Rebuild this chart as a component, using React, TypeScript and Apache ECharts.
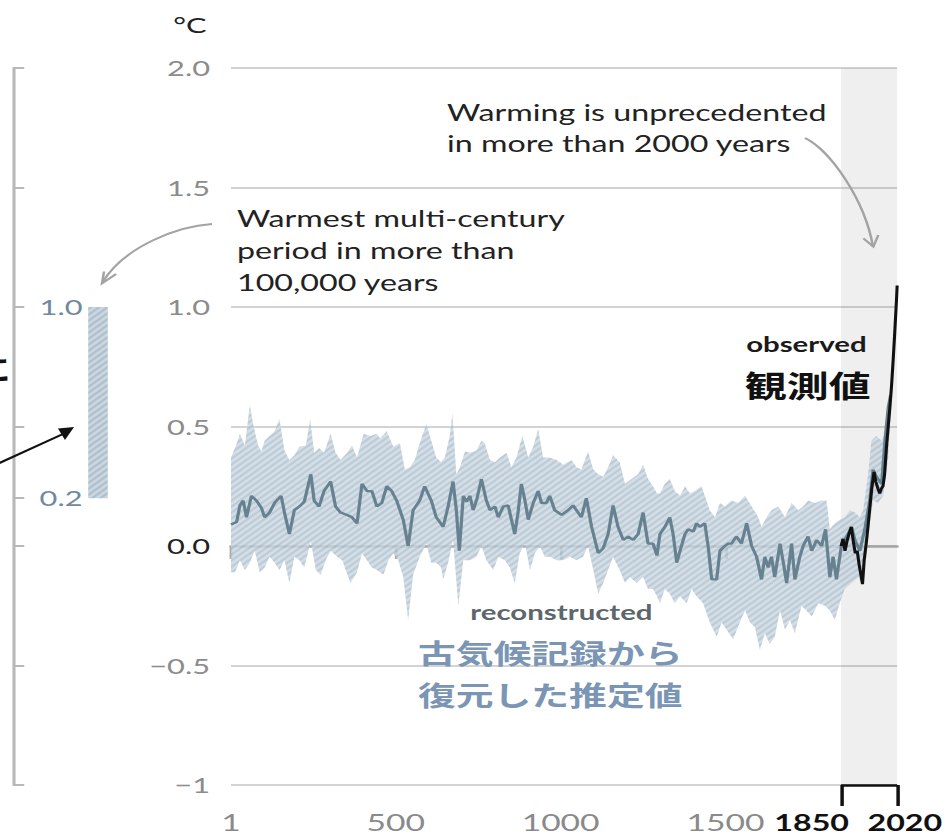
import React, { useEffect, useRef } from 'react';
import * as echarts from 'echarts';

const SX = 1.4;
const W = 676;
const H = 836;

const xLabelYears = [1, 500, 1000, 1500, 1850, 2020];
const xTickYears = [1, 500, 1000, 1500];
const bracketYears = [1850, 2020];
const leftTickValues = [-1, -0.5, 0, 0.2, 0.5, 1, 1.5, 2];
const leftLabelValues = [0.2, 1.0];
const warmestRange = [0.2, 1.0];

const median: number[][] = [
  [1, 0.09], [18, 0.10], [28, 0.17], [38, 0.19], [48, 0.12], [63, 0.21], [78, 0.19], [93, 0.16], [103, 0.12], [118, 0.14],
  [133, 0.18], [153, 0.21], [163, 0.14], [178, 0.05], [193, 0.15], [208, 0.165], [223, 0.185], [243, 0.30], [253, 0.19], [268, 0.165],
  [283, 0.23], [303, 0.27], [318, 0.165], [333, 0.14], [353, 0.13], [368, 0.12], [383, 0.095], [398, 0.26], [413, 0.23], [428, 0.23],
  [443, 0.165], [458, 0.18], [473, 0.25], [488, 0.23], [503, 0.19], [523, 0.11], [538, 0.0], [553, 0.15], [573, 0.19], [588, 0.25],
  [608, 0.19], [623, 0.12], [634, 0.10], [644, 0.08], [659, 0.165], [674, 0.27], [684, 0.15], [693, -0.02], [705, 0.21], [715, 0.185],
  [725, 0.21], [735, 0.15], [745, 0.19], [760, 0.28], [775, 0.19], [786, 0.15], [801, 0.165], [811, 0.12], [826, 0.165], [841, 0.17],
  [851, 0.11], [861, 0.05], [871, 0.14], [881, 0.26], [892, 0.19], [902, 0.11], [917, 0.18], [932, 0.23], [942, 0.18], [957, 0.18],
  [967, 0.21], [982, 0.15], [1003, 0.13], [1023, 0.15], [1038, 0.17], [1048, 0.15], [1063, 0.12], [1078, 0.20], [1094, 0.08], [1114, -0.03],
  [1129, -0.01], [1144, 0.05], [1159, 0.17], [1174, 0.08], [1190, 0.025], [1205, 0.04], [1220, 0.025], [1235, 0.05], [1250, 0.14], [1265, 0.01],
  [1280, 0.01], [1292, -0.04], [1301, 0.05], [1316, 0.08], [1331, 0.12], [1341, 0.05], [1352, -0.07], [1362, -0.02], [1377, 0.05], [1387, 0.07],
  [1402, 0.06], [1412, 0.095], [1422, 0.08], [1437, 0.095], [1447, 0.0], [1458, -0.14], [1473, -0.14], [1483, -0.02], [1498, 0.0], [1508, 0.01],
  [1518, 0.01], [1533, 0.04], [1548, 0.01], [1564, 0.095], [1579, 0.0], [1594, -0.045], [1609, -0.14], [1619, -0.045], [1629, -0.09], [1639, -0.045],
  [1649, -0.13], [1665, 0.01], [1675, -0.07], [1685, -0.155], [1700, 0.01], [1710, -0.14], [1725, -0.045], [1735, 0.0], [1750, 0.04], [1761, -0.02],
  [1776, 0.025], [1791, 0.0], [1803, 0.07], [1816, -0.13], [1826, -0.045], [1836, -0.14], [1851, 0.0], [1867, 0.04], [1882, 0.08], [1892, 0.025],
  [1907, -0.02], [1922, 0.07], [1937, 0.19], [1947, 0.32], [1957, 0.29], [1973, 0.26], [1983, 0.44], [1993, 0.58], [2000, 0.63],
];

const upper: number[][] = [
  [1, 0.37], [13, 0.41], [28, 0.47], [43, 0.42], [58, 0.59], [68, 0.51], [83, 0.42], [93, 0.395], [103, 0.44], [118, 0.46],
  [133, 0.48], [148, 0.53], [163, 0.40], [178, 0.36], [193, 0.38], [208, 0.415], [228, 0.42], [241, 0.53], [253, 0.39], [268, 0.41],
  [283, 0.39], [303, 0.47], [318, 0.39], [333, 0.36], [353, 0.39], [368, 0.42], [383, 0.37], [403, 0.47], [423, 0.46], [443, 0.47],
  [453, 0.45], [473, 0.48], [493, 0.415], [513, 0.43], [528, 0.32], [543, 0.33], [558, 0.36], [573, 0.43], [593, 0.51], [608, 0.44],
  [623, 0.37], [638, 0.35], [649, 0.37], [664, 0.46], [672, 0.555], [684, 0.30], [695, 0.33], [710, 0.395], [725, 0.39], [745, 0.40],
  [760, 0.44], [770, 0.43], [786, 0.36], [801, 0.35], [816, 0.37], [836, 0.39], [851, 0.33], [866, 0.37], [884, 0.46], [902, 0.37],
  [917, 0.415], [932, 0.49], [947, 0.37], [967, 0.37], [988, 0.36], [1008, 0.34], [1033, 0.36], [1048, 0.33], [1063, 0.32], [1083, 0.395],
  [1099, 0.32], [1114, 0.30], [1129, 0.29], [1144, 0.33], [1159, 0.38], [1179, 0.35], [1195, 0.26], [1215, 0.28], [1235, 0.30], [1250, 0.34],
  [1265, 0.28], [1280, 0.25], [1292, 0.22], [1301, 0.22], [1316, 0.26], [1331, 0.28], [1346, 0.23], [1362, 0.21], [1377, 0.25], [1392, 0.22],
  [1407, 0.23], [1427, 0.25], [1442, 0.19], [1452, 0.15], [1468, 0.12], [1483, 0.18], [1498, 0.165], [1518, 0.19], [1538, 0.18], [1559, 0.21],
  [1579, 0.165], [1599, 0.12], [1609, 0.08], [1624, 0.12], [1639, 0.15], [1660, 0.165], [1680, 0.12], [1700, 0.18], [1720, 0.15], [1735, 0.165],
  [1750, 0.19], [1771, 0.18], [1791, 0.19], [1806, 0.19], [1816, 0.07], [1831, 0.095], [1846, 0.11], [1861, 0.12], [1877, 0.15], [1892, 0.14],
  [1907, 0.12], [1917, 0.15], [1932, 0.30], [1942, 0.44], [1957, 0.46], [1973, 0.44], [1983, 0.47], [1993, 0.61], [2000, 0.66],
];

const lower: number[][] = [
  [1, -0.11], [13, -0.11], [28, -0.06], [43, -0.10], [58, -0.07], [73, -0.02], [88, -0.11], [103, -0.09], [118, -0.045], [133, -0.07],
  [148, -0.10], [163, -0.06], [178, -0.155], [193, -0.045], [208, -0.06], [223, -0.09], [243, 0.02], [258, -0.10], [273, -0.12], [288, -0.06],
  [303, -0.02], [323, -0.045], [338, -0.06], [363, -0.155], [383, -0.11], [398, -0.03], [413, -0.06], [428, -0.09], [443, -0.10], [463, -0.12],
  [478, -0.06], [493, -0.03], [508, -0.06], [523, -0.13], [538, -0.31], [553, -0.12], [573, -0.045], [593, 0.01], [608, -0.07], [623, -0.07],
  [638, -0.09], [644, -0.14], [659, -0.07], [674, 0.025], [690, -0.25], [705, -0.06], [725, -0.06], [745, -0.045], [760, 0.0], [775, -0.06],
  [796, -0.10], [811, -0.045], [831, -0.06], [846, -0.09], [861, -0.155], [876, -0.03], [892, 0.01], [907, -0.10], [922, -0.03], [937, 0.0],
  [952, -0.045], [967, -0.045], [988, -0.06], [1008, -0.06], [1028, -0.045], [1048, -0.06], [1068, -0.045], [1083, 0.0], [1099, -0.10], [1114, -0.20],
  [1129, -0.155], [1144, -0.10], [1159, -0.045], [1179, -0.10], [1195, -0.155], [1210, -0.13], [1230, -0.155], [1250, -0.13], [1265, -0.18], [1280, -0.18],
  [1292, -0.21], [1301, -0.24], [1316, -0.18], [1331, -0.20], [1346, -0.24], [1362, -0.21], [1382, -0.24], [1397, -0.18], [1412, -0.21], [1432, -0.24],
  [1452, -0.32], [1473, -0.38], [1488, -0.32], [1503, -0.35], [1523, -0.39], [1543, -0.32], [1559, -0.27], [1574, -0.32], [1589, -0.34], [1604, -0.435],
  [1619, -0.365], [1634, -0.41], [1649, -0.38], [1665, -0.27], [1680, -0.35], [1695, -0.31], [1710, -0.365], [1730, -0.25], [1745, -0.27], [1761, -0.295],
  [1781, -0.24], [1801, -0.25], [1816, -0.27], [1831, -0.31], [1846, -0.24], [1861, -0.18], [1882, -0.155], [1902, -0.13], [1912, -0.155], [1927, -0.045],
  [1937, 0.095], [1947, 0.19], [1962, 0.18], [1978, 0.21], [1993, 0.37], [2000, 0.55],
];

const observed: number[][] = [
  [1850, 0.0], [1856, 0.03], [1862, -0.02], [1868, 0.02], [1874, 0.05], [1881, 0.08], [1887, 0.02], [1893, -0.03], [1899, -0.02], [1905, -0.08],
  [1910, -0.12], [1915, -0.16], [1920, -0.06], [1927, 0.02], [1933, 0.10], [1938, 0.17], [1943, 0.24], [1950, 0.31], [1955, 0.27], [1962, 0.24],
  [1967, 0.22], [1972, 0.24], [1977, 0.25], [1982, 0.30], [1988, 0.42], [1993, 0.50], [1998, 0.58], [2003, 0.67], [2008, 0.78], [2013, 0.90],
  [2018, 1.03], [2020, 1.09],
];

const LATO = 'Lato, "Noto Sans", sans-serif';
const CJK = '"Noto Sans CJK JP", "Noto Sans CJK SC", sans-serif';

function makePattern(): HTMLCanvasElement {
  const c = document.createElement('canvas');
  c.width = 6;
  c.height = 6;
  const ctx = c.getContext('2d')!;
  ctx.fillStyle = '#cbd7e0';
  ctx.fillRect(0, 0, 6, 6);
  ctx.strokeStyle = '#a9bccb';
  ctx.lineWidth = 1.6;
  for (const cc of [0, 6, 12]) {
    ctx.beginPath();
    ctx.moveTo(cc + 1, -1);
    ctx.lineTo(-1, cc + 1);
    ctx.stroke();
  }
  return c;
}

function fmtY(v: number): string {
  if (v === 0) return '{z|0.0}';
  if (v === -1) return '\u22121';
  if (v < 0) return '\u2212' + Math.abs(v).toFixed(1);
  return v.toFixed(1);
}

function txt(x: number, y: number, text: string, size: number, color: string, opts: any = {}) {
  return {
    type: 'text',
    x,
    y,
    z: 100,
    silent: true,
    style: {
      text,
      fontSize: size,
      fontFamily: opts.family || LATO,
      fontWeight: opts.weight || 'normal',
      fill: color,
      align: opts.align || 'center',
      textAlign: opts.align || 'center',
      verticalAlign: opts.valign || 'middle',
      textVerticalAlign: opts.valign || 'middle',
      lineHeight: opts.lineHeight,
    },
  };
}

export default function App() {
  const ref = useRef<HTMLDivElement>(null);
  useEffect(() => {
    document.body.style.margin = '0';
    const chart = echarts.init(ref.current!, null, { renderer: 'svg', width: W, height: H });
    const pattern = { image: makePattern(), repeat: 'repeat' };
    const arrowGray = '#a3a3a3';

    const option: any = {
      animation: false,
      textStyle: { fontFamily: LATO },
      grid: [
        { left: 165, right: 35, top: 68, bottom: 51 },
        { left: 9.3, width: 121.4, top: 68, bottom: 51 },
      ],
      xAxis: [
        {
          gridIndex: 0, type: 'value', min: 1, max: 2020, position: 'bottom',
          axisLine: { show: true, lineStyle: { color: '#ababab', width: 2.5 } },
          axisTick: { show: true, customValues: xTickYears, length: 13, lineStyle: { color: '#ababab', width: 2 } },
          axisLabel: {
            customValues: xLabelYears, margin: 25, fontFamily: LATO, fontSize: 24, color: '#8a8a8a',
            formatter: (v: number) => (v === 1850 ? '{b1|1850}' : v === 2020 ? '{b2|2020}' : String(v)),
            rich: {
              b1: { fontWeight: 'bold', color: '#111', fontSize: 23, fontFamily: LATO, padding: [0, 42, 0, 0] },
              b2: { fontWeight: 'bold', color: '#111', fontSize: 23, fontFamily: LATO, padding: [0, 0, 0, 11] },
            },
          },
          splitLine: { show: false },
        },
        {
          gridIndex: 0, type: 'value', min: 1, max: 2020, position: 'bottom',
          axisLine: { show: false },
          axisTick: { show: true, customValues: bracketYears, length: 21, lineStyle: { color: '#111', width: 2.5 } },
          axisLabel: { show: false },
          splitLine: { show: false },
        },
        { gridIndex: 1, type: 'category', data: ['warmest'], show: false },
      ],
      yAxis: [
        {
          gridIndex: 0, type: 'value', min: -1, max: 2, interval: 0.5,
          axisLine: { show: false }, axisTick: { show: false },
          splitLine: { show: true, lineStyle: { color: '#d3d3d3', width: 2 } },
          axisLabel: {
            margin: 15, fontSize: 22, color: '#8c8c8c', fontFamily: LATO, formatter: fmtY,
            rich: { z: { color: '#222', fontSize: 22, fontFamily: LATO } },
          },
        },
        {
          gridIndex: 1, type: 'value', min: -1, max: 2, interval: 0.5,
          axisLine: { show: true, lineStyle: { color: '#b8b8b8', width: 2.2 } },
          axisTick: { show: true, inside: true, customValues: leftTickValues, length: 8, lineStyle: { color: '#b8b8b8', width: 2 } },
          axisLabel: {
            inside: true, customValues: leftLabelValues, margin: 19, fontSize: 22, color: '#6f8a9c', fontFamily: LATO,
            formatter: (v: number) => v.toFixed(1),
          },
          splitLine: { show: false },
        },
      ],
      series: [
        {
          type: 'line', xAxisIndex: 0, yAxisIndex: 0, data: [[1850, -1]], symbol: 'none',
          lineStyle: { opacity: 0 }, silent: true, z: 1,
          markArea: { silent: true, z: 1, itemStyle: { color: 'rgba(110,100,100,0.1)' }, data: [[{ xAxis: 1850 }, { xAxis: 2020 }]] },
        },
        {
          type: 'custom', xAxisIndex: 0, yAxisIndex: 0, data: [[1000, 0]], silent: true, z: 3,
          renderItem: (_p: any, api: any) => {
            const pts = upper.map((d) => api.coord(d)).concat(lower.slice().reverse().map((d) => api.coord(d)));
            return { type: 'polygon', shape: { points: pts }, style: { fill: pattern, stroke: null, opacity: 0.82 } };
          },
        },
        {
          type: 'line', xAxisIndex: 0, yAxisIndex: 0, data: median, symbol: 'none', silent: true, z: 4,
          lineStyle: { color: '#66818f', width: 2.3 },
        },
        {
          type: 'line', xAxisIndex: 0, yAxisIndex: 0, data: observed, symbol: 'none', silent: true, z: 5,
          lineStyle: { color: '#111', width: 2.2 },
        },
        {
          type: 'line', xAxisIndex: 0, yAxisIndex: 0, data: [[1850, -1]], symbol: 'none', silent: true, z: 6,
          lineStyle: { opacity: 0 },
          markLine: {
            silent: true, symbol: ['none', 'none'], label: { show: false },
            lineStyle: { color: '#111', width: 2.5, type: 'solid' },
            data: [[{ coord: [bracketYears[0], -1] }, { coord: [bracketYears[1], -1] }]],
          },
        },
        {
          type: 'bar', xAxisIndex: 2, yAxisIndex: 1, stack: 'w', barWidth: 14, silent: true,
          data: [warmestRange[0]], itemStyle: { color: 'rgba(0,0,0,0)' },
        },
        {
          type: 'bar', xAxisIndex: 2, yAxisIndex: 1, stack: 'w', barWidth: 14, silent: true,
          data: [warmestRange[1] - warmestRange[0]], itemStyle: { color: pattern },
        },
      ],
      graphic: [
        txt(135.7, 25, '°C', 22, '#222'),
        txt(319.3, 96.5, 'Warming is unprecedented\nin more than 2000 years', 23, '#222', { align: 'left', valign: 'top', lineHeight: 31 }),
        txt(169.3, 202, 'Warmest multi-century\nperiod in more than\n100,000 years', 23, '#222', { align: 'left', valign: 'top', lineHeight: 32 }),
        txt(576, 344, 'observed', 21, '#1a1a1a', { weight: 'bold' }),
        txt(577, 384, '観測値', 30, '#111', { weight: 'bold', family: CJK }),
        txt(401, 612, 'reconstructed', 21, '#5d666d', { weight: 'bold' }),
        txt(393, 652, '古気候記録から', 27, '#7b95b5', { weight: 'bold', family: CJK }),
        txt(393, 694, '復元した推定値', 27, '#7b95b5', { weight: 'bold', family: CJK }),
        txt(8, 367, 'に', 30, '#111', { weight: 'bold', family: CJK, align: 'right' }),
        {
          type: 'bezierCurve', silent: true, z: 100,
          shape: { x1: 151.4, y1: 224, cpx1: 128.6, cpy1: 226, cpx2: 89.3, cpy2: 245, x2: 72.9, y2: 283 },
          style: { stroke: arrowGray, lineWidth: 1.8, fill: null },
        },
        {
          type: 'polyline', silent: true, z: 100,
          shape: { points: [[74.3, 271.5], [72.9, 283.3], [82.9, 274]] },
          style: { stroke: arrowGray, lineWidth: 1.8, fill: null },
        },
        {
          type: 'bezierCurve', silent: true, z: 100,
          shape: { x1: 575, y1: 138, cpx1: 592.9, cpy1: 150, cpx2: 617.9, cpy2: 200, x2: 623.6, y2: 247 },
          style: { stroke: arrowGray, lineWidth: 1.8, fill: null },
        },
        {
          type: 'polyline', silent: true, z: 100,
          shape: { points: [[616.7, 238.3], [623.8, 246.7], [627.4, 235]] },
          style: { stroke: arrowGray, lineWidth: 1.8, fill: null },
        },
        {
          type: 'line', silent: true, z: 100,
          shape: { x1: -5, y1: 466, x2: 45, y2: 434 },
          style: { stroke: '#111', lineWidth: 2 },
        },
        {
          type: 'polygon', silent: true, z: 100,
          shape: { points: [[52.9, 427], [41.4, 428.6], [46.4, 440]] },
          style: { fill: '#111' },
        },
      ],
    };
    chart.setOption(option);
    return () => chart.dispose();
  }, []);
  return (
    <div
      ref={ref}
      style={{ width: W, height: H, transform: `scaleX(${SX})`, transformOrigin: '0 0' }}
    />
  );
}
